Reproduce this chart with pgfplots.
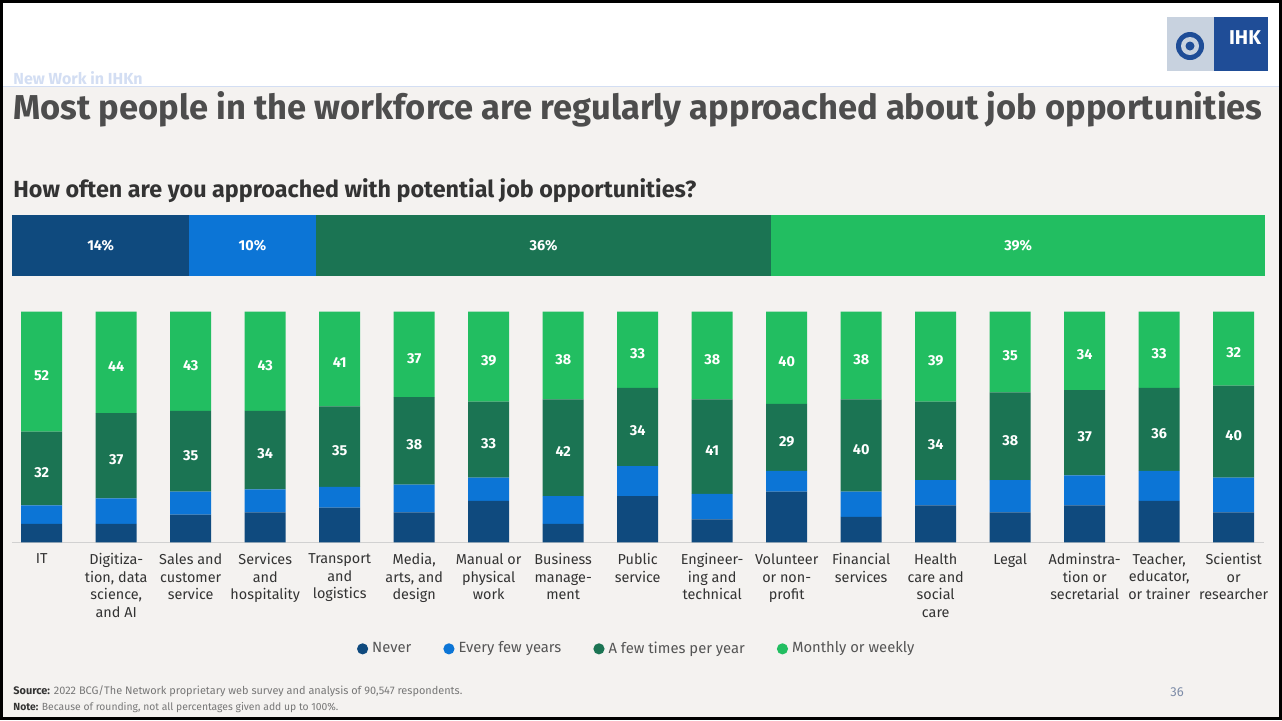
\documentclass[border=0pt]{standalone}
\usepackage{graphicx}
\usepackage{pgfplots}
\usepackage{pgfplotstable}
\pgfplotsset{compat=1.18}
\usepackage{fontspec}
\setmainfont{Fira Sans}

\definecolor{cNever}{HTML}{0F4A7E}
\definecolor{cYears}{HTML}{0C75D6}
\definecolor{cFew}{HTML}{1B7453}
\definecolor{cMonth}{HTML}{22BE61}
\definecolor{bgc}{HTML}{F4F2F0}
\definecolor{txtc}{HTML}{333333}
\definecolor{ttlc}{HTML}{4D4D4D}
\definecolor{legc}{HTML}{555555}
\definecolor{ihkblue}{HTML}{1F4D97}
\definecolor{ihkgray}{HTML}{C8D2DF}
\definecolor{nwc}{HTML}{D3DEF3}
\definecolor{pgc}{HTML}{7D8CA8}
\definecolor{srcc}{HTML}{777777}

\pgfplotstableread{
x N E F M
0 8 8 32 52
1 8 11 37 44
2 12 10 35 43
3 13 10 34 43
4 15 9 35 41
5 13 12 38 37
6 18 10 33 39
7 8 12 42 38
8 20 13 34 33
9 10 11 41 38
10 22 9 29 40
11 11 11 40 38
12 16 11 34 39
13 13 14 38 35
14 16 13 37 34
15 18 13 36 33
16 13 15 40 32
}\jobs
\pgfplotstablecreatecol[create col/expr={\thisrow{N}+\thisrow{E}+0.5*\thisrow{F}}]{midF}\jobs
\pgfplotstablecreatecol[create col/expr={\thisrow{N}+\thisrow{E}+\thisrow{F}+0.5*\thisrow{M}}]{midM}\jobs

\pgfplotstableread{
y N E F M
0 14 10 36 39
}\overall
\pgfplotstablecreatecol[create col/expr={0.5*\thisrow{N}}]{midN}\overall
\pgfplotstablecreatecol[create col/expr={\thisrow{N}+0.5*\thisrow{E}}]{midE}\overall
\pgfplotstablecreatecol[create col/expr={\thisrow{N}+\thisrow{E}+0.5*\thisrow{F}}]{midF}\overall
\pgfplotstablecreatecol[create col/expr={\thisrow{N}+\thisrow{E}+\thisrow{F}+0.5*\thisrow{M}}]{midM}\overall

\pgfplotsset{
  topgeom/.style={at={(6pt,-138pt)}, anchor=south west, scale only axis,
    width=626.5pt, height=30.5pt, xmin=0, xmax=99, ymin=-0.5, ymax=0.5,
    hide axis, clip=false},
  botgeom/.style={at={(5.95pt,-271.15pt)}, anchor=south west, scale only axis,
    width=625.8pt, height=115.3pt, xmin=-0.4, xmax=16.4, ymin=0, ymax=100,
    clip=false},
  lbl/.style={draw=none, mark=none, nodes near coords, point meta=explicit,
    every node near coord/.append style={anchor=center, text=white,
      font=\bfseries\fontsize{7.2}{8}\selectfont}},
}

\begin{document}
\begin{tikzpicture}
\useasboundingbox (0,0) rectangle (641pt,-360pt);
\begin{scope}[x=0.5pt,y=-0.5pt]
  \fill[bgc] (0,0) rectangle (1282,720);
  \fill[white] (0,0) rectangle (1282,86);
  \draw[nwc, line width=0.5pt] (0,86) -- (1282,86);
  % logo
  \fill[ihkgray] (1167,17) rectangle (1214,71);
  \fill[ihkblue] (1214,17) rectangle (1268,71);
  \fill[ihkblue] (1190,46) circle (14);
  \fill[ihkgray] (1190,46) circle (9);
  \fill[ihkblue] (1190,46) circle (4.5);
  \node[anchor=center, text=white, inner sep=0, font=\bfseries\fontsize{10}{10}\selectfont] at (1245,38) {IHK};
  % texts
  \node[anchor=base west, inner sep=0, text=nwc, font=\bfseries\fontsize{8}{9}\selectfont] at (13,84) {New Work in IHKn};
  \node[anchor=base west, inner sep=0, text=ttlc, font=\bfseries\fontsize{15}{17}\selectfont] at (13,119)
    {\resizebox{624.5pt}{!}{Most people in the workforce are regularly approached about job opportunities}};
  \node[anchor=base west, inner sep=0, text=txtc, font=\bfseries\fontsize{10}{12}\selectfont] at (13,197)
    {\resizebox{341.5pt}{!}{How often are you approached with potential job opportunities?}};
  \node[anchor=base west, inner sep=0, text=srcc, font=\fontsize{5.2}{6}\selectfont] at (13,694)
    {\resizebox{224.5pt}{!}{\textbf{\color{txtc}Source:} 2022 BCG/The Network proprietary web survey and analysis of 90,547 respondents.}};
  \node[anchor=base west, inner sep=0, text=srcc, font=\fontsize{5.2}{6}\selectfont] at (13,710)
    {\resizebox{162.5pt}{!}{\textbf{\color{txtc}Note:} Because of rounding, not all percentages given add up to 100\%.}};
  \node[anchor=base west, inner sep=0, text=pgc, font=\fontsize{6.5}{7}\selectfont] at (1170,696) {36};
  \draw[black, line width=1.5pt] (1.5,1.5) rectangle (1280.5,718.5);
\end{scope}

% overall bar
\begin{axis}[topgeom, xbar stacked, bar width=30.5pt]
  \addplot[fill=cNever, draw=none] table[x=N, y=y]{\overall};
  \addplot[fill=cYears, draw=none] table[x=E, y=y]{\overall};
  \addplot[fill=cFew, draw=none] table[x=F, y=y]{\overall};
  \addplot[fill=cMonth, draw=none] table[x=M, y=y]{\overall};
\end{axis}
\begin{axis}[topgeom, /pgf/number format/assume math mode=true]
  \addplot[lbl, nodes near coords={\pgfmathprintnumber{\pgfplotspointmeta}\%}] table[x=midN, y=y, meta=N]{\overall};
  \addplot[lbl, nodes near coords={\pgfmathprintnumber{\pgfplotspointmeta}\%}] table[x=midE, y=y, meta=E]{\overall};
  \addplot[lbl, nodes near coords={\pgfmathprintnumber{\pgfplotspointmeta}\%}] table[x=midF, y=y, meta=F]{\overall};
  \addplot[lbl, nodes near coords={\pgfmathprintnumber{\pgfplotspointmeta}\%}] table[x=midM, y=y, meta=M]{\overall};
\end{axis}

% category bars
\begin{axis}[botgeom, ybar stacked, bar width=20.5pt,
  axis y line=none, axis x line*=bottom,
  x axis line style={draw=black!18, line width=0.6pt},
  xtick=data, major tick length=0pt, ytick=\empty,
  xticklabels={{IT},{Digitiza-\\tion, data\\science,\\and AI},{Sales and\\customer\\service},
    {Services\\and\\hospitality},{Transport\\and\\logistics},{Media,\\arts, and\\design},
    {Manual or\\physical\\work},{Business\\manage-\\ment},{Public\\service},
    {Engineer-\\ing and\\technical},{Volunteer\\or non-\\profit},{Financial\\services},
    {Health\\care and\\social\\care},{Legal},{Adminstra-\\tion or\\secretarial},
    {Teacher,\\educator,\\or trainer},{Scientist\\or\\researcher}},
  xticklabel style={align=center, text=txtc, inner sep=0pt, yshift=-5.5pt,
    font=\fontsize{7.2}{8.75}\selectfont},
  legend columns=4,
  legend image code/.code={\fill[#1] (0.1cm,0cm) circle (2.8pt);},
  legend style={at={(0.5,-0.462)}, anchor=center, draw=none, fill=none,
    text=legc, font=\fontsize{7.4}{9}\selectfont,
    /tikz/every even column/.append style={column sep=14pt}},
]
  \addplot[fill=cNever, draw=none] table[x=x, y=N]{\jobs};
  \addlegendentry{Never}
  \addplot[fill=cYears, draw=none] table[x=x, y=E]{\jobs};
  \addlegendentry{Every few years}
  \addplot[fill=cFew, draw=none] table[x=x, y=F]{\jobs};
  \addlegendentry{A few times per year}
  \addplot[fill=cMonth, draw=none] table[x=x, y=M]{\jobs};
  \addlegendentry{Monthly or weekly}
\end{axis}
\begin{axis}[botgeom, hide axis, /pgf/number format/assume math mode=true]
  \addplot[lbl, every node near coord/.append style={yshift=-2pt}] table[x=x, y=midF, meta=F]{\jobs};
  \addplot[lbl, every node near coord/.append style={yshift=-2pt}] table[x=x, y=midM, meta=M]{\jobs};
\end{axis}
\end{tikzpicture}
\end{document}
